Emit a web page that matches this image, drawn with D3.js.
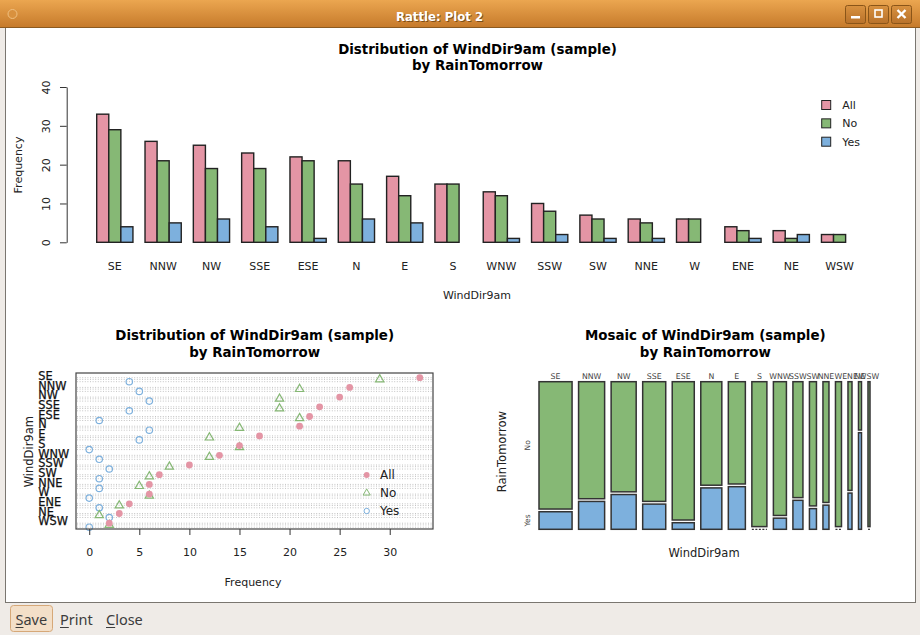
<!DOCTYPE html>
<html><head><meta charset="utf-8">
<script src="https://cdn.jsdelivr.net/npm/d3@7"></script>
<style>
html,body{margin:0;padding:0;background:#fff;}
svg{display:block;font-family:"DejaVu Sans",sans-serif;}
</style></head>
<body>
<script>
// ---------- data ----------
const categories = ["SE","NNW","NW","SSE","ESE","N","E","S","WNW","SSW","SW","NNE","W","ENE","NE","WSW"];
const allCounts  = [33,26,25,23,22,21,17,15,13,10,7,6,6,4,3,2];
const noCounts   = [29,21,19,19,21,15,12,15,12,8,6,5,6,3,1,2];
const yesCounts  = [4,5,6,4,1,6,5,0,1,2,1,1,0,1,2,0];
const seriesNames = ["All","No","Yes"];
const barTicks = [0,10,20,30,40];
const dotTicks = [0,5,10,15,20,25,30];
const titleLine1 = "Distribution of WindDir9am (sample)";
const mosaicLine1 = "Mosaic of WindDir9am (sample)";
const titleLine2 = "by RainTomorrow";

const colors = {All:"#E495A5", No:"#86B875", Yes:"#7DB0DD"};
const seriesValues = {All:allCounts, No:noCounts, Yes:yesCounts};

const W = 920, H = 635;
const svg = d3.select("body").append("svg").attr("width",W).attr("height",H);
const titleSize = 13.4;

// ---------- window chrome ----------
const defs = svg.append("defs");
const tg = defs.append("linearGradient").attr("id","tb").attr("x1",0).attr("y1",0).attr("x2",0).attr("y2",1);
tg.append("stop").attr("offset","0%").attr("stop-color","#EBA650");
tg.append("stop").attr("offset","100%").attr("stop-color","#C5792A");
const bgr = defs.append("linearGradient").attr("id","btn").attr("x1",0).attr("y1",0).attr("x2",0).attr("y2",1);
bgr.append("stop").attr("offset","0%").attr("stop-color","#D99240");
bgr.append("stop").attr("offset","100%").attr("stop-color","#B8712A");

svg.append("rect").attr("x",0).attr("y",0).attr("width",W).attr("height",H).attr("fill","#EFEBE7");
svg.append("rect").attr("x",5.5).attr("y",27.5).attr("width",910).attr("height",575).attr("fill","#fff").attr("stroke","#7a7670").attr("stroke-width",1);
svg.append("rect").attr("x",0).attr("y",0).attr("width",W).attr("height",28).attr("fill","url(#tb)");
svg.append("line").attr("x1",0).attr("x2",W).attr("y1",27.5).attr("y2",27.5).attr("stroke","#8c5a20");
svg.append("circle").attr("cx",12.5).attr("cy",14).attr("r",4.5).attr("fill","#D9913E").attr("stroke","#F0C080").attr("stroke-width",1);
svg.append("text").attr("x",439.5).attr("y",20.5).attr("text-anchor","middle")
  .attr("font-size",13).attr("font-weight","bold").attr("fill","#4a2c08").attr("opacity",0.6)
  .attr("transform","translate(1,1)").attr("font-family","'DejaVu Sans Condensed','DejaVu Sans',sans-serif").attr("font-stretch","condensed").text("Rattle: Plot 2");
svg.append("text").attr("x",439.5).attr("y",20.5).attr("text-anchor","middle")
  .attr("font-size",13).attr("font-weight","bold").attr("fill","#fff")
  .attr("font-family","'DejaVu Sans Condensed','DejaVu Sans',sans-serif").attr("font-stretch","condensed").text("Rattle: Plot 2");
[845,868,891].forEach((bx,i)=>{
  svg.append("rect").attr("x",bx+0.5).attr("y",5.5).attr("width",20).attr("height",18).attr("rx",2)
    .attr("fill","url(#btn)").attr("stroke","#8a5518");
  if(i===0) svg.append("rect").attr("x",bx+6).attr("y",16).attr("width",9).attr("height",2.5).attr("fill","#fff");
  if(i===1) svg.append("rect").attr("x",bx+7).attr("y",10).attr("width",7).attr("height",7).attr("fill","none").attr("stroke","#fff").attr("stroke-width",1.6);
  if(i===2) svg.append("path").attr("d",`M${bx+6.5},10 L${bx+14.5},18 M${bx+14.5},10 L${bx+6.5},18`).attr("stroke","#fff").attr("stroke-width",2.4);
});
// bottom buttons
svg.append("rect").attr("x",10.5).attr("y",605.5).attr("width",42).attr("height",26).attr("rx",3)
  .attr("fill","#F3DFC8").attr("stroke","#D6A878");
const bf = "'Noto Sans','DejaVu Sans',sans-serif";
[["Save",15.5],["Print",60],["Close",106]].forEach(([t,x])=>{
  svg.append("text").attr("x",x).attr("y",625).attr("font-size",14.5).attr("fill","#3c3c3c").attr("font-family",bf).text(t);
  const w1 = svg.append("text").attr("x",-100).attr("y",-100).attr("font-size",14.5).attr("font-family",bf).text(t[0]);
  const lw = w1.node().getComputedTextLength(); w1.remove();
  svg.append("line").attr("x1",x).attr("x2",x+lw).attr("y1",627.5).attr("y2",627.5).attr("stroke","#3c3c3c");
});

const txtCol = "#222";

// ---------- top bar chart ----------
const topG = svg.append("g");
const yBar = d3.scaleLinear().domain([0,40]).range([242.3,87]);
const xBand = d3.scaleBand().domain(categories).range([96.7,857.7]).paddingInner(0.25).paddingOuter(0);
const xSub = d3.scaleBand().domain(seriesNames).range([0,xBand.bandwidth()]);

topG.append("text").attr("x",477.5).attr("y",53.5).attr("text-anchor","middle").attr("font-size",titleSize).attr("font-weight","bold").attr("fill","#000").text(titleLine1);
topG.append("text").attr("x",477.5).attr("y",70).attr("text-anchor","middle").attr("font-size",titleSize).attr("font-weight","bold").attr("fill","#000").text(titleLine2);

const yAx = topG.append("g").attr("transform","translate(66.7,0)")
  .call(d3.axisLeft(yBar).tickValues(barTicks).tickSize(6.7).tickSizeOuter(0));
yAx.select(".domain").attr("stroke","#333");
yAx.selectAll(".tick line").attr("stroke","#333");
yAx.selectAll(".tick text").attr("x",null).attr("dy",null).attr("text-anchor","middle")
  .attr("transform","translate(-16.5,0) rotate(-90)").attr("font-size",11).attr("fill",txtCol)
  .attr("font-family","'DejaVu Sans',sans-serif");
topG.append("text").attr("transform","translate(22,165) rotate(-90)").attr("text-anchor","middle").attr("font-size",11).attr("fill",txtCol).text("Frequency");

const groups = topG.selectAll("g.grp").data(categories).join("g").attr("class","grp")
  .attr("transform",d=>`translate(${xBand(d)},0)`);
groups.selectAll("rect").data((d,i)=>seriesNames.map(s=>({s, v:seriesValues[s][i]}))).join("rect")
  .attr("x",d=>xSub(d.s)).attr("width",xSub.bandwidth())
  .attr("y",d=>yBar(d.v)).attr("height",d=>yBar(0)-yBar(d.v))
  .attr("fill",d=>colors[d.s]).attr("stroke","#222").attr("stroke-width",1.4);

const xAx = topG.append("g").attr("transform","translate(0,242.3)")
  .call(d3.axisBottom(xBand).tickSize(0).tickPadding(19.7));
xAx.select(".domain").remove();
xAx.selectAll(".tick text").attr("font-size",11).attr("fill",txtCol).attr("font-family","'DejaVu Sans',sans-serif");
topG.append("text").attr("x",477).attr("y",299).attr("text-anchor","middle").attr("font-size",11).attr("fill",txtCol).text("WindDir9am");

const leg = topG.selectAll("g.leg").data(seriesNames).join("g").attr("class","leg")
  .attr("transform",(d,i)=>`translate(821.7,${105+i*18.35})`);
leg.append("rect").attr("x",0).attr("y",-4.5).attr("width",9).attr("height",9).attr("fill",d=>colors[d]).attr("stroke","#222").attr("stroke-width",1);
leg.append("text").attr("x",20.6).attr("y",4).attr("font-size",11).attr("fill",txtCol).text(d=>d);

// ---------- dot plot ----------
const dot = svg.append("g");
dot.append("text").attr("x",254.7).attr("y",340.3).attr("text-anchor","middle").attr("font-size",titleSize).attr("font-weight","bold").attr("fill","#000").text(titleLine1);
dot.append("text").attr("x",254.7).attr("y",357).attr("text-anchor","middle").attr("font-size",titleSize).attr("font-weight","bold").attr("fill","#000").text(titleLine2);
const xDot = d3.scaleLinear().domain([-1.32,34.32]).range([76,433]);
const yDot = d3.scalePoint().domain(categories).range([377.7,523.2]);
const offs = {All:0, No:1.7, Yes:4};
const pTop = 373, pBot = 529;

categories.forEach(c=>{
  seriesNames.forEach(s=>{
    dot.append("line").attr("x1",77).attr("x2",432).attr("y1",yDot(c)+offs[s]).attr("y2",yDot(c)+offs[s])
      .attr("stroke","#c4c4c4").attr("stroke-width",1).attr("stroke-dasharray","1,1.6");
  });
});
const cats = categories.map((c,i)=>({c,i}));
dot.selectAll("circle.yes").data(cats).join("circle").attr("class","yes")
  .attr("cx",d=>xDot(yesCounts[d.i])).attr("cy",d=>yDot(d.c)+offs.Yes).attr("r",3.2)
  .attr("fill","none").attr("stroke",colors.Yes).attr("stroke-width",1.2);
dot.selectAll("path.no").data(cats).join("path").attr("class","no")
  .attr("d",d3.symbol(d3.symbolTriangle,30))
  .attr("transform",d=>`translate(${xDot(noCounts[d.i])},${yDot(d.c)+offs.No})`)
  .attr("fill","none").attr("stroke",colors.No).attr("stroke-width",1.2);
dot.selectAll("circle.all").data(cats).join("circle").attr("class","all")
  .attr("cx",d=>xDot(allCounts[d.i])).attr("cy",d=>yDot(d.c)+offs.All).attr("r",3.4)
  .attr("fill",colors.All);
dot.append("rect").attr("x",76).attr("y",pTop).attr("width",433-76).attr("height",pBot-pTop)
  .attr("fill","none").attr("stroke","#444").attr("stroke-width",1.2);

const dl = dot.selectAll("g.dl").data(seriesNames).join("g").attr("class","dl")
  .attr("transform",(d,i)=>`translate(366.7,${475+i*18})`);
dl.each(function(d){
  const g = d3.select(this);
  if(d==="All") g.append("circle").attr("r",2.9).attr("fill",colors.All);
  if(d==="No") g.append("path").attr("d",d3.symbol(d3.symbolTriangle,22)).attr("fill","none").attr("stroke",colors.No).attr("stroke-width",1);
  if(d==="Yes") g.append("circle").attr("r",2.7).attr("fill","none").attr("stroke",colors.Yes).attr("stroke-width",1);
});
dl.append("text").attr("x",13.3).attr("y",4.3).attr("font-size",12).attr("fill",txtCol).text(d=>d);

const condF = "'DejaVu Sans Condensed','DejaVu Sans',sans-serif";
dot.selectAll("text.yl").data(categories).join("text").attr("class","yl")
  .attr("x",38.3).attr("y",d=>yDot(d)+2.2).attr("font-size",12.6).attr("fill","#111")
  .attr("stroke","#111").attr("stroke-width",0.25)
  .attr("font-family",condF).attr("font-stretch","condensed").text(d=>d);
dot.append("text").attr("transform","translate(32.5,451.7) rotate(-90)").attr("text-anchor","middle").attr("font-size",11.5).attr("fill",txtCol).text("WindDir9am");

const dAx = dot.append("g").attr("transform",`translate(0,${pBot})`)
  .call(d3.axisBottom(xDot).tickValues(dotTicks).tickSize(6).tickSizeOuter(0).tickPadding(13));
dAx.select(".domain").remove();
dAx.selectAll(".tick line").attr("stroke","#333");
dAx.selectAll(".tick text").attr("font-size",11).attr("fill",txtCol).attr("font-family","'DejaVu Sans',sans-serif");
dot.append("text").attr("x",253).attr("y",585.5).attr("text-anchor","middle").attr("font-size",11).attr("fill",txtCol).text("Frequency");

// ---------- mosaic ----------
const mos = svg.append("g");
mos.append("text").attr("x",705.3).attr("y",340.3).attr("text-anchor","middle").attr("font-size",titleSize).attr("font-weight","bold").attr("fill","#000").text(mosaicLine1);
mos.append("text").attr("x",705.3).attr("y",357).attr("text-anchor","middle").attr("font-size",titleSize).attr("font-weight","bold").attr("fill","#000").text(titleLine2);

const mLeft = 539, mRight = 870, mTop = 381.7, mBot = 529.3, gapX = 6.5, gapY = 2.7;
const total = d3.sum(allCounts);
const xMos = d3.scaleLinear().domain([0,total]).range([0, mRight-mLeft-gapX*(categories.length-1)]);
const yMos = d3.scaleLinear().domain([0,1]).range([0, mBot-mTop-gapY]);
const cum = Array.from(d3.cumsum([0].concat(allCounts)));
const cols = categories.map((c,i)=>{
  const x0 = mLeft + xMos(cum[i]) + i*gapX;
  const w = xMos(allCounts[i]);
  return {c,i,x0,w};
});
cols.forEach(d=>{
  const yesH = yMos(yesCounts[d.i]/allCounts[d.i]);
  const noH = yMos(noCounts[d.i]/allCounts[d.i]);
  if(noCounts[d.i]>0){
    mos.append("rect").attr("x",d.x0).attr("y",mTop).attr("width",d.w).attr("height",noH)
      .attr("fill",colors.No).attr("stroke","#333").attr("stroke-width",1.5);
  }
  if(yesCounts[d.i]>0){
    mos.append("rect").attr("x",d.x0).attr("y",mBot-yesH).attr("width",d.w).attr("height",yesH)
      .attr("fill",colors.Yes).attr("stroke","#333").attr("stroke-width",1.5);
  } else {
    mos.append("line").attr("x1",d.x0).attr("x2",d.x0+d.w).attr("y1",mBot).attr("y2",mBot)
      .attr("stroke","#333").attr("stroke-width",1.2).attr("stroke-dasharray","2,1.5");
  }
});
mos.selectAll("text.ml").data(cols).join("text").attr("class","ml")
  .attr("x",d=>d.x0+d.w/2).attr("y",379.2).attr("text-anchor","middle").attr("font-size",7.8)
  .attr("fill","#444").text(d=>d.c);
const c0 = 0;
const noMid = mTop + yMos(noCounts[c0]/allCounts[c0])/2;
const yesMid = mBot - yMos(yesCounts[c0]/allCounts[c0])/2;
mos.append("text").attr("transform",`translate(529.5,${noMid}) rotate(-90)`).attr("text-anchor","middle").attr("font-size",7.5).attr("fill","#444").text("No");
mos.append("text").attr("transform",`translate(529.5,${yesMid}) rotate(-90)`).attr("text-anchor","middle").attr("font-size",7.5).attr("fill","#444").text("Yes");
mos.append("text").attr("transform","translate(505.5,451.7) rotate(-90)").attr("text-anchor","middle").attr("font-size",11.5).attr("fill",txtCol).text("RainTomorrow");
mos.append("text").attr("x",704).attr("y",556.5).attr("text-anchor","middle").attr("font-size",11.5).attr("fill",txtCol).text("WindDir9am");
</script>
</body></html>
